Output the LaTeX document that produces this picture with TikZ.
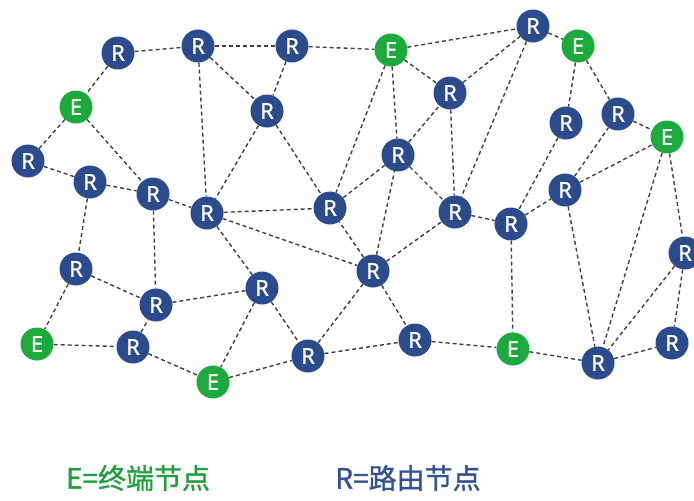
\documentclass[tikz,border=0pt]{standalone}
\usepackage{fontspec}
\setmainfont{Noto Sans}
\newfontfamily\cjk[FakeBold=1.2]{Noto Sans CJK SC}
\newfontfamily\nodefont[FakeBold=1]{Noto Sans}
\definecolor{eg}{HTML}{1CAA3C}
\definecolor{rb}{HTML}{2B4B8C}
\definecolor{egt}{HTML}{22A040}
\definecolor{rbt}{HTML}{34528F}
\begin{document}
\begin{tikzpicture}[x=1pt,y=-1pt,
  rn/.style={circle,fill=rb,minimum size=33pt,inner sep=0pt,text=white,font=\nodefont\fontsize{22}{22}\selectfont},
  en/.style={rn,fill=eg},
  link/.style={draw=black!75,line width=1.4pt,dash pattern=on 4pt off 3pt},
  legend/.style={font=\cjk\fontsize{28}{28}\selectfont,inner sep=0pt}]
\useasboundingbox (0,0) rectangle (694,501);
% nodes
\node[rn] (r1) at (118,53) {R};
\node[rn] (r2) at (198,46) {R};
\node[rn] (r3) at (292,46) {R};
\node[en] (e1) at (391,50) {E};
\node[rn] (r4) at (533,26) {R};
\node[en] (e2) at (578,46) {E};
\node[en] (e3) at (76,107) {E};
\node[rn] (r5) at (267,111) {R};
\node[rn] (r6) at (450,93) {R};
\node[rn] (r7) at (566,123) {R};
\node[rn] (r8) at (618,114) {R};
\node[en] (e4) at (667,137) {E};
\node[rn] (r9) at (28,161) {R};
\node[rn] (r10) at (90,182) {R};
\node[rn] (r11) at (153,194) {R};
\node[rn] (r12) at (207,213) {R};
\node[rn] (r13) at (330,208) {R};
\node[rn] (r14) at (398,155) {R};
\node[rn] (r15) at (455,212) {R};
\node[rn] (r16) at (511,224) {R};
\node[rn] (r17) at (565,190) {R};
\node[rn] (r18) at (685,253) {R};
\node[rn] (r19) at (76,269) {R};
\node[rn] (r20) at (156,305) {R};
\node[rn] (r21) at (262,288) {R};
\node[rn] (r22) at (373,271) {R};
\node[en] (e5) at (37,344) {E};
\node[rn] (r23) at (133,347) {R};
\node[en] (e6) at (213,382) {E};
\node[rn] (r24) at (308,356) {R};
\node[rn] (r25) at (415,340) {R};
\node[en] (e7) at (513,349) {E};
\node[rn] (r26) at (598,363) {R};
\node[rn] (r27) at (672,343) {R};
% links
\foreach \a/\b in {r1/r2,r2/r3,r3/e1,e1/r4,r4/e2,r1/e3,e3/r9,e3/r11,r9/r10,r10/r11,
  r11/r12,r2/r12,r2/r5,r3/r5,r5/r12,r5/r13,r12/r13,r12/r22,r12/r21,r11/r20,
  r10/r19,r19/r20,r19/e5,e5/r23,r23/r20,r20/r21,r23/e6,r21/e6,r21/r24,e6/r24,
  r24/r22,r24/r25,r22/r25,r22/r13,r22/r15,r22/r14,e1/r14,e1/r13,r13/r14,
  r14/r6,e1/r6,r6/r4,r6/r15,r14/r15,r4/r15,r7/r16,r16/r17,r15/r16,r16/e7,
  r25/e7,e7/r26,r26/r27,r18/r27,r18/r26,e4/r18,e4/r26,r17/r26,r17/e4,r17/r8,
  e2/r7,e2/r8,r8/e4}
  \draw[link] (\a) -- (\b);
% legend
\node[legend,text=egt] (le) at (138,478) {E=终端节点};
\node[legend,text=rbt] (lr) at (408,478) {R=路由节点};
\end{tikzpicture}
\end{document}
